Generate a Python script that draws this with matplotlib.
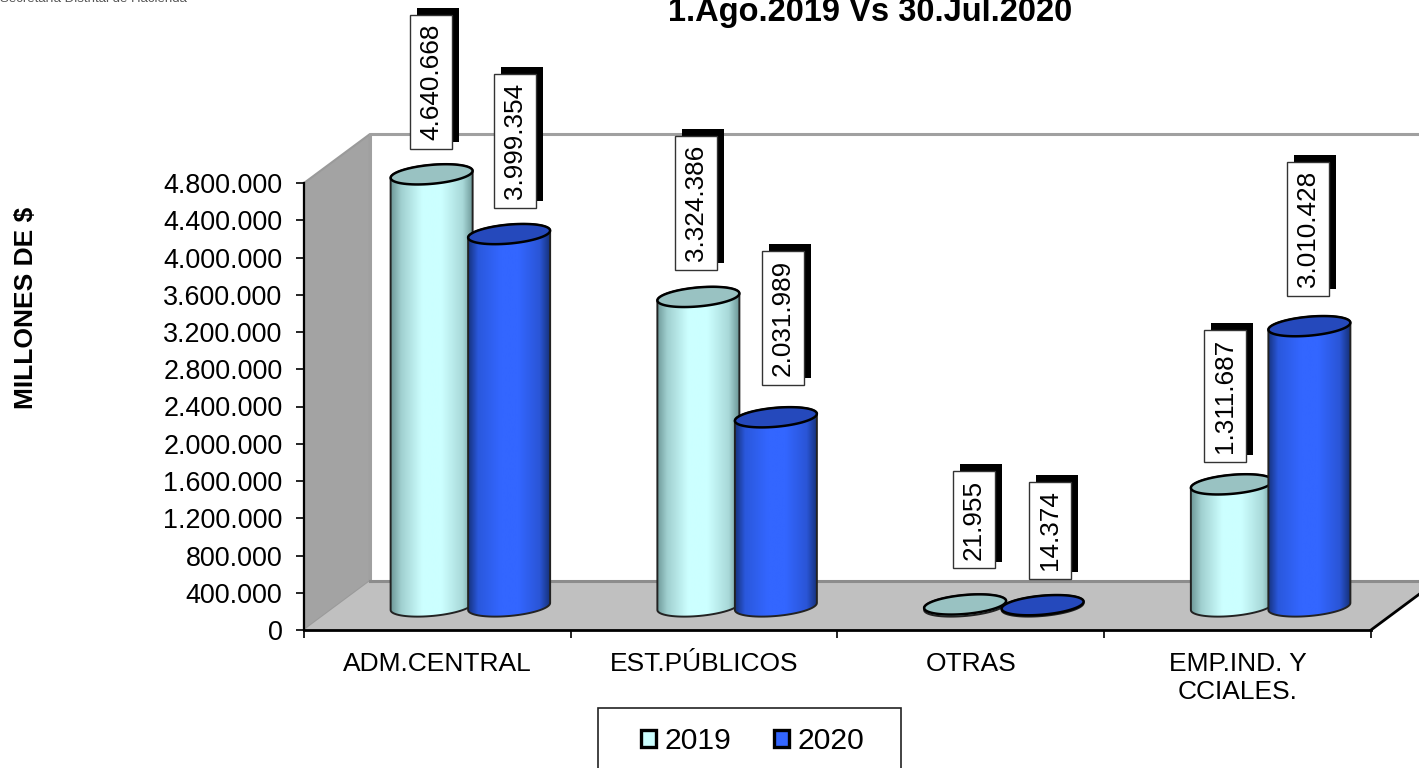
import numpy as np
import matplotlib
matplotlib.use("Agg")
import matplotlib.pyplot as plt
from matplotlib.colors import LinearSegmentedColormap
from matplotlib.patches import Patch, Polygon, Rectangle
from matplotlib.ticker import FuncFormatter
import matplotlib.patheffects as pe

plt.rcParams['font.family'] = ['Liberation Sans', 'DejaVu Sans']

categories = ["ADM.CENTRAL", "EST.PÚBLICOS", "OTRAS", "EMP.IND. Y\nCCIALES."]
values_2019 = [4640668, 3324386, 21955, 1311687]
values_2020 = [3999354, 2031989, 14374, 3010428]
y_ticks = [0, 400000, 800000, 1200000, 1600000, 2000000, 2400000, 2800000,
           3200000, 3600000, 4000000, 4400000, 4800000]

W, H = 1419, 768
# where the plot box sits, in pixels
X0, Y0, Y_TOP = 304, 630, 183
PX_CAT = 266.75
PX_VAL = (Y0 - Y_TOP) / 4800000

fig = plt.figure(figsize=(W / 100, H / 100), dpi=100)
ax = fig.add_axes([0, 0, 1, 1])
ax.patch.set_alpha(0)


def dx(px):
    return px / PX_CAT


def dy(px):
    return px / PX_VAL


xlim = (-dx(X0), dx(W - X0))
ylim = (-dy(H - Y0), dy(Y0))

depth_x, depth_y = dx(66), dy(49)
top_val = y_ticks[-1]

# walls and floor
ax.add_patch(Polygon([(0, 0), (depth_x, depth_y), (depth_x, top_val + depth_y), (0, top_val)],
                     fc="#A3A3A3", ec="#9A9A9A", lw=1.5, zorder=1))
ax.add_patch(Polygon([(0, 0), (depth_x, depth_y), (4 + depth_x, depth_y), (4, 0)],
                     fc="#C0C0C0", ec="none", zorder=1))
ax.plot([depth_x, depth_x, 4 + depth_x], [depth_y, top_val + depth_y, top_val + depth_y],
        color="#A0A0A0", lw=2.2, zorder=1.2)
ax.plot([depth_x, 4 + depth_x], [depth_y, depth_y], color="#8C8C8C", lw=2.2, zorder=1.2)
ax.plot([4, 4 + depth_x], [0, depth_y], color="black", lw=2, zorder=1.3)

cm_light = LinearSegmentedColormap.from_list(
    "light", [(0, "#6F9A9A"), (0.12, "#A0CFCF"), (0.38, "#CCFFFF"), (0.62, "#CCFFFF"),
              (0.88, "#A8D8D8"), (1, "#6F9A9A")])
cm_blue = LinearSegmentedColormap.from_list(
    "blue", [(0, "#16337F"), (0.12, "#2A58DC"), (0.4, "#3366FF"), (0.62, "#3366FF"),
             (0.88, "#2A55D6"), (1, "#16337F")])

A, B, SHEAR = 41, 9.5, 3.5  # ellipse shape of the cylinder ends, pixels
BASE_X, BASE_Y = 33, 23.5  # offset of the cylinder base into the depth, pixels
STEP = 77.5


def ring(cx, val, t):
    xs = cx + dx(A) * np.cos(t)
    ys = val + dy(BASE_Y) + dy(B) * np.sin(t) + dy(SHEAR) * np.cos(t)
    return np.column_stack([xs, ys])


def cylinder(cx, val, cmap, top_color, z):
    low = ring(cx, 0, np.linspace(np.pi, 2 * np.pi, 40))
    high = ring(cx, val, np.linspace(0, np.pi, 40))
    body = Polygon(np.vstack([low, high]), closed=True, fc="none", ec="#222222", lw=1.4, zorder=z + 0.2)
    ax.add_patch(body)
    im = ax.imshow(np.linspace(0, 1, 160).reshape(1, -1), cmap=cmap, aspect="auto",
                   extent=(cx - dx(A), cx + dx(A), 0, val + dy(60)), zorder=z)
    im.set_clip_path(body)
    ax.add_patch(Polygon(ring(cx, val, np.linspace(0, 2 * np.pi, 80)), closed=True,
                         fc=top_color, ec="black", lw=1.8, zorder=z + 0.3))


x_pos = np.arange(len(categories)) + 0.5
for i in range(len(categories)):
    cx1 = x_pos[i] + dx(BASE_X - STEP / 2)
    cx2 = x_pos[i] + dx(BASE_X + STEP / 2)
    cylinder(cx1, values_2019[i], cm_light, "#99C2C2", 2 + i)
    cylinder(cx2, values_2020[i], cm_blue, "#2549BC", 2.5 + i)

# data labels were dragged by hand in the original, so each has its own offset (px)
label_off_2019 = [(-0.5, 25), (-2, 27), (9, 36), (-7, 22)]
label_off_2020 = [(6, 26), (7, 32), (7.5, 26), (-1, 30)]
FS_LABEL = 18.8
PAD = 0.34


def data_label(cx, val, off):
    txt = f"{val:,}".replace(",", ".")
    y = val + dy(BASE_Y)
    a = ax.annotate(txt, xy=(cx, y), xytext=(off[0] * 0.72, off[1] * 0.72 + PAD * FS_LABEL),
                    textcoords="offset points", rotation=90, ha="center", va="bottom",
                    fontsize=FS_LABEL, color="black", zorder=20,
                    bbox=dict(boxstyle=f"square,pad={PAD}", fc="white", ec="#333333", lw=1))
    a.get_bbox_patch().set_path_effects([
        pe.SimplePatchShadow(offset=(5, 5), shadow_rgbFace="black", alpha=1),
        pe.Normal()])


for i in range(len(categories)):
    data_label(x_pos[i] + dx(BASE_X - STEP / 2), values_2019[i], label_off_2019[i])
    data_label(x_pos[i] + dx(BASE_X + STEP / 2), values_2020[i], label_off_2020[i])

ax.set_xlim(xlim)
ax.set_ylim(ylim)

for s in ["top", "right"]:
    ax.spines[s].set_visible(False)
ax.spines["left"].set_position(("data", 0))
ax.spines["bottom"].set_position(("data", 0))
ax.spines["left"].set_bounds(0, top_val)
ax.spines["bottom"].set_bounds(0, 4)
ax.spines["left"].set_linewidth(1.6)
ax.spines["bottom"].set_linewidth(2)
ax.spines["left"].set_zorder(1.5)
ax.spines["bottom"].set_zorder(1.5)

ax.set_yticks(y_ticks)
ax.yaxis.set_major_formatter(FuncFormatter(lambda v, p: f"{int(v):,}".replace(",", ".")))
ax.tick_params(axis="y", length=5.5, width=1.2, labelsize=19.4, pad=10)
ax.set_xticks(range(len(categories) + 1))
ax.set_xticklabels([])
ax.set_xticks(x_pos, minor=True)
ax.set_xticklabels(categories, minor=True, fontsize=19, linespacing=1.2)
ax.tick_params(axis="x", which="major", length=5.5, width=1.2)
ax.tick_params(axis="x", which="minor", length=0, pad=16)

# the top of the title is cut by the picture edge in the original too
fig.text(870 / W, 1 - 21 / H, "1.Ago.2019 Vs 30.Jul.2020", ha="center", va="baseline",
         fontsize=23.5, fontweight="bold")
fig.text(26 / W, 1 - 308 / H, "MILLONES DE $", rotation=90, ha="center", va="center",
         fontsize=19, fontweight="bold")
fig.text(0 / W, 1 - 2 / H, "Secretaría Distrital de Hacienda", ha="left", va="baseline",
         fontsize=9.5, color="#555555")

# legend frame runs off the bottom of the picture
fig.add_artist(Rectangle((598 / W, -5 / H), 303 / W, (H - 708 + 5) / H, transform=fig.transFigure,
                         fc="white", ec="#222222", lw=1.2))
leg = fig.legend(handles=[Patch(fc="#CCFFFF", ec="black", lw=2.4, label="2019"),
                          Patch(fc="#3366FF", ec="black", lw=2.4, label="2020")],
                 loc="center", bbox_to_anchor=(753 / W, 1 - 741 / H), ncol=2, frameon=False,
                 fontsize=21.7, handlelength=0.5, handleheight=0.5, handletextpad=0.28,
                 columnspacing=1.42)

fig.savefig("out.png", dpi=100)
